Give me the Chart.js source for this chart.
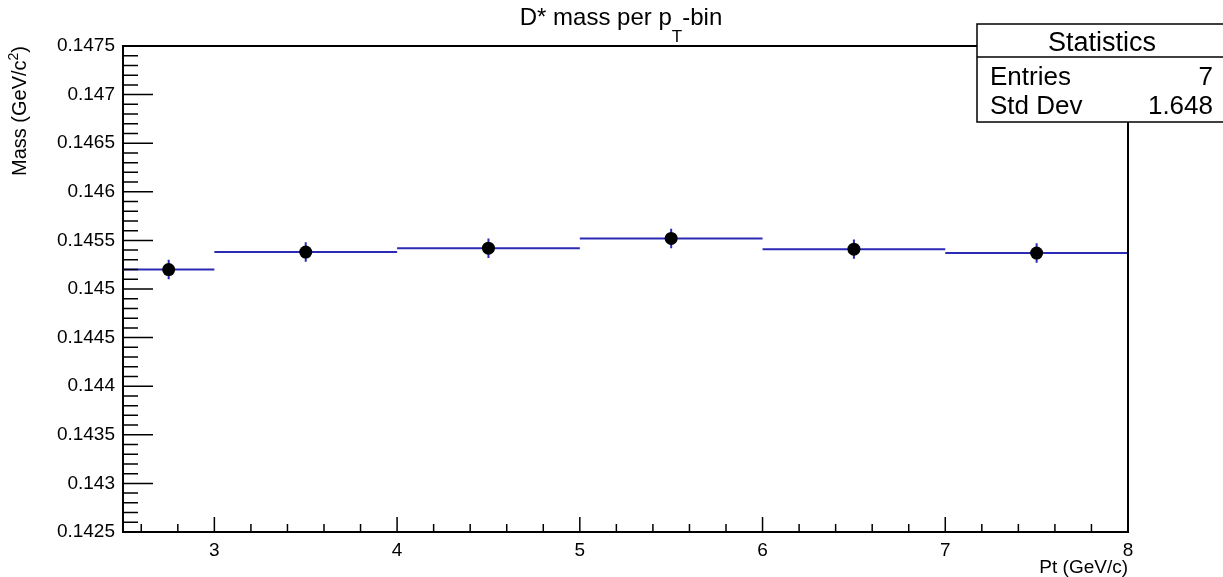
<!DOCTYPE html>
<html lang="en">
<head>
  <meta charset="UTF-8" />
  <title>D* mass per pT-bin</title>
  <script src="https://cdn.jsdelivr.net/npm/chart.js"></script>
  <style>
    * { margin: 0; padding: 0; box-sizing: border-box; }
    body { background: #ffffff; }
    #wrap { width: 1223px; height: 577px; position: relative; }
  </style>
</head>
<body>
  <div id="wrap"><canvas id="massChart"></canvas></div>

  <script>
    // Bins in pT (GeV/c) and fitted D* mass per bin
    const binLow = [2.5, 3, 4, 5, 6, 7];
    const binHigh = [3, 4, 5, 6, 7, 8];
    const binCenter = [2.75, 3.5, 4.5, 5.5, 6.5, 7.5];
    const mass = [0.14520, 0.14538, 0.14542, 0.14552, 0.14541, 0.14537];
    const massErr = [0.0001, 0.0001, 0.0001, 0.0001, 0.0001, 0.0001];

    const xTicks = [3, 4, 5, 6, 7, 8];
    const yTicks = [0.1425, 0.143, 0.1435, 0.144, 0.1445, 0.145, 0.1455, 0.146, 0.1465, 0.147, 0.1475];

    const statsLabels = ['Entries', 'Std Dev'];
    const statsValues = ['7', '1.648'];

    const FONT = '"Liberation Sans", Arial, Helvetica, sans-serif';
    const BLUE = '#2a2ab4';

    // horizontal bin segments, separated by gaps
    const stepData = [];
    const errData = [];
    for (let i = 0; i < mass.length; i++) {
      stepData.push({ x: binLow[i], y: mass[i] }, { x: binHigh[i], y: mass[i] }, { x: binHigh[i], y: null });
      errData.push({ x: binCenter[i], y: mass[i] - massErr[i] }, { x: binCenter[i], y: mass[i] + massErr[i] }, { x: binCenter[i], y: null });
    }
    const pointData = binCenter.map((c, i) => ({ x: c, y: mass[i] }));

    // ROOT-like frame, inner ticks, titles and stats box
    const rootDecor = {
      id: 'rootDecor',
      afterDraw(chart) {
        const { ctx, chartArea: a, scales } = chart;
        const xs = scales.x, ys = scales.y;
        ctx.save();
        ctx.strokeStyle = '#000';
        ctx.lineWidth = 1.5;

        // x ticks (major every 1, minor every 0.2)
        ctx.beginPath();
        for (let k = 0; k <= 55; k++) {
          const v = 2.5 + k * 0.1;
          if (Math.abs(v * 5 - Math.round(v * 5)) > 1e-6) continue;
          const major = Math.abs(v - Math.round(v)) < 1e-6;
          const px = xs.getPixelForValue(v);
          ctx.moveTo(px, a.bottom);
          ctx.lineTo(px, a.bottom - (major ? 15 : 8));
        }
        // y ticks (major every 0.0005, minor every 0.0001)
        for (let k = 0; k <= 50; k++) {
          const v = 0.1425 + k * 0.0001;
          const major = k % 5 === 0;
          const py = ys.getPixelForValue(v);
          ctx.moveTo(a.left, py);
          ctx.lineTo(a.left + (major ? 30 : 15), py);
        }
        ctx.stroke();

        // top and right frame
        ctx.lineWidth = 2;
        ctx.beginPath();
        ctx.moveTo(a.left, a.top);
        ctx.lineTo(a.right, a.top);
        ctx.lineTo(a.right, a.bottom);
        ctx.stroke();

        // title with subscript
        ctx.fillStyle = '#000';
        ctx.textBaseline = 'alphabetic';
        const t1 = 'D* mass per p', t2 = 'T', t3 = '-bin';
        ctx.font = '24px ' + FONT;
        const w1 = ctx.measureText(t1).width;
        const w3 = ctx.measureText(t3).width;
        ctx.font = '17px ' + FONT;
        const w2 = ctx.measureText(t2).width;
        const tx = 621 - (w1 + w2 + w3) / 2;
        ctx.textAlign = 'left';
        ctx.font = '24px ' + FONT;
        ctx.fillText(t1, tx, 25);
        ctx.font = '17px ' + FONT;
        ctx.fillText(t2, tx + w1, 42);
        ctx.font = '24px ' + FONT;
        ctx.fillText(t3, tx + w1 + w2, 25);

        // y title, rotated, aligned to top of axis
        ctx.save();
        ctx.translate(26, a.top);
        ctx.rotate(-Math.PI / 2);
        const ya = 'Mass (GeV/c', yb = '2', yc = ')';
        ctx.font = '20px ' + FONT;
        const wa = ctx.measureText(ya).width;
        const wc = ctx.measureText(yc).width;
        ctx.font = '14px ' + FONT;
        const wb = ctx.measureText(yb).width;
        const sx = -(wa + wb + wc);
        ctx.font = '20px ' + FONT;
        ctx.fillText(ya, sx, 0);
        ctx.font = '14px ' + FONT;
        ctx.fillText(yb, sx + wa, -8);
        ctx.font = '20px ' + FONT;
        ctx.fillText(yc, sx + wa + wb, 0);
        ctx.restore();

        // x title, right aligned
        ctx.font = '19px ' + FONT;
        ctx.textAlign = 'right';
        ctx.fillText('Pt (GeV/c)', a.right, 573);

        // stats box
        const bx = 977, by = 24, bw = 250, bh = 98;
        ctx.fillStyle = '#fff';
        ctx.fillRect(bx, by, bw, bh);
        ctx.lineWidth = 1.5;
        ctx.strokeRect(bx, by, bw, bh);
        ctx.beginPath();
        ctx.moveTo(bx, 57);
        ctx.lineTo(bx + bw, 57);
        ctx.stroke();
        ctx.fillStyle = '#000';
        ctx.font = '27px ' + FONT;
        ctx.textAlign = 'center';
        ctx.textBaseline = 'alphabetic';
        ctx.fillText('Statistics', 1102, 51);
        ctx.font = '26px ' + FONT;
        for (let i = 0; i < statsLabels.length; i++) {
          const ry = 85 + i * 29;
          ctx.textAlign = 'left';
          ctx.fillText(statsLabels[i], 990, ry);
          ctx.textAlign = 'right';
          ctx.fillText(statsValues[i], 1213, ry);
        }
        ctx.restore();
      }
    };

    const ctx = document.getElementById('massChart').getContext('2d');
    const chart = new Chart(ctx, {
      type: 'scatter',
      data: {
        datasets: [
          {
            label: 'bins',
            data: stepData,
            showLine: true,
            spanGaps: false,
            borderColor: BLUE,
            borderWidth: 2,
            pointRadius: 0,
            order: 2
          },
          {
            label: 'errors',
            data: errData,
            showLine: true,
            spanGaps: false,
            borderColor: BLUE,
            borderWidth: 2,
            pointRadius: 0,
            order: 1
          },
          {
            label: 'mass',
            data: pointData,
            pointRadius: 6.5,
            pointBackgroundColor: '#000',
            pointBorderWidth: 0,
            order: 0
          }
        ]
      },
      options: {
        responsive: true,
        maintainAspectRatio: false,
        animation: false,
        layout: { padding: { left: 0, right: 95, top: 46, bottom: 0 } },
        plugins: {
          legend: { display: false },
          tooltip: { enabled: false }
        },
        scales: {
          x: {
            type: 'linear',
            min: 2.5,
            max: 8,
            afterFit: s => { s.height = 45; },
            afterBuildTicks: s => { s.ticks = xTicks.map(v => ({ value: v })); },
            grid: { display: false, drawTicks: false },
            border: { display: true, color: '#000', width: 2 },
            ticks: {
              color: '#000',
              padding: 7,
              maxRotation: 0,
              font: { family: FONT, size: 19 }
            }
          },
          y: {
            min: 0.1425,
            max: 0.1475,
            afterFit: s => { s.width = 123; },
            afterBuildTicks: s => { s.ticks = yTicks.map(v => ({ value: v })); },
            grid: { display: false, drawTicks: false },
            border: { display: true, color: '#000', width: 2 },
            ticks: {
              color: '#000',
              padding: 8,
              font: { family: FONT, size: 19 },
              callback: v => String(parseFloat(v.toFixed(4)))
            }
          }
        }
      },
      plugins: [rootDecor]
    });
  </script>
</body>
</html>
